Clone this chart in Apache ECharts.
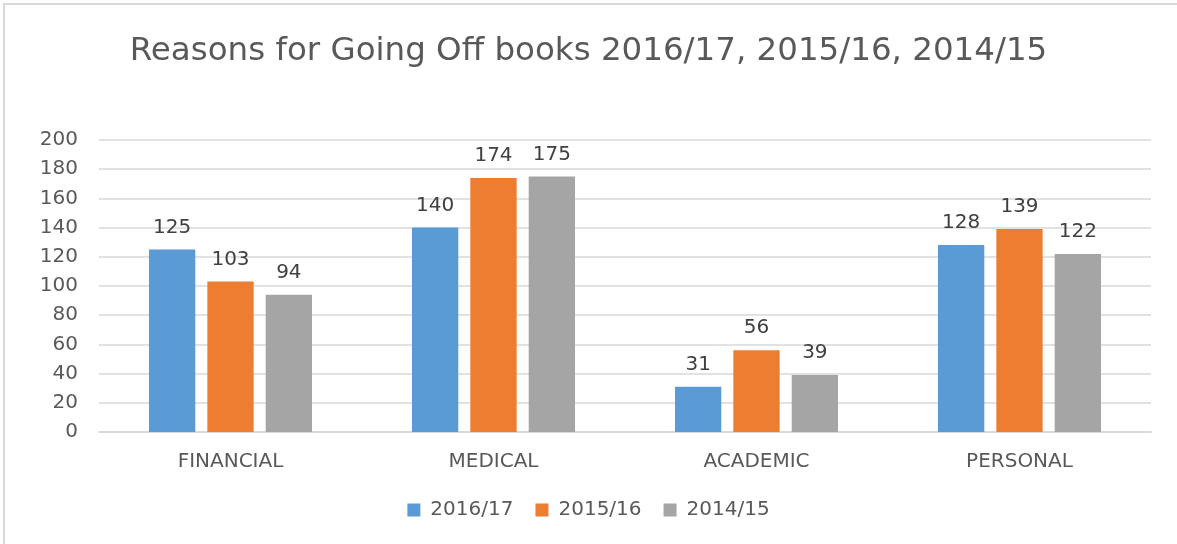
<!DOCTYPE html>
<html>
<head>
<meta charset="utf-8">
<script src="https://cdn.jsdelivr.net/npm/echarts@6/dist/echarts.min.js"></script>
<style>
  html, body { margin: 0; padding: 0; background: #fff; overflow: hidden; }
  #chart { width: 1177px; height: 544px; }
</style>
</head>
<body>
<div id="chart"></div>
<script>
const categories = ['FINANCIAL', 'MEDICAL', 'ACADEMIC', 'PERSONAL'];
const seriesNames = ['2016/17', '2015/16', '2014/15'];
const values2016 = [125, 140, 31, 128];
const values2015 = [103, 174, 56, 139];
const values2014 = [94, 175, 39, 122];
const colors = ['#5b9bd5', '#ed7d31', '#a5a5a5'];

const font = '"DejaVu Sans", "Noto Sans", sans-serif';
const chart = echarts.init(document.getElementById('chart'), null, { renderer: 'canvas' });

function bar(name, data, color) {
  return {
    name, type: 'bar', data,
    barGap: '26%', barCategoryGap: '38%',
    itemStyle: { color },
    label: { show: true, position: 'top', distance: 12, color: '#404040',
             fontFamily: font, fontSize: 20 }
  };
}

chart.setOption({
  animation: false,
  color: colors,
  // chart-area frame: top and left edges
  graphic: [
    { type: 'line', shape: { x1: 3, y1: 4, x2: 1177, y2: 4 },
      style: { stroke: '#d9d9d9', lineWidth: 2 } },
    { type: 'line', shape: { x1: 4, y1: 4, x2: 4, y2: 544 },
      style: { stroke: '#d9d9d9', lineWidth: 2 } }
  ],
  title: {
    text: 'Reasons for Going Off books 2016/17, 2015/16, 2014/15',
    left: 'center', top: 30,
    textStyle: { fontFamily: font, fontSize: 32.5, fontWeight: 'normal', color: '#595959' }
  },
  legend: {
    bottom: 19, left: 'center', itemWidth: 13, itemHeight: 13, itemGap: 22,
    icon: 'rect',
    textStyle: { fontFamily: font, fontSize: 20, color: '#595959', padding: [0, 0, 0, 5] },
    data: seriesNames
  },
  grid: { left: 99, right: 26, top: 140, bottom: 112, containLabel: false },
  xAxis: {
    type: 'category', data: categories,
    axisLine: { lineStyle: { color: '#d9d9d9', width: 2 } },
    axisTick: { show: false },
    axisLabel: { fontFamily: font, fontSize: 20, color: '#595959', margin: 20 }
  },
  yAxis: {
    type: 'value', min: 0, max: 200, interval: 20,
    axisLine: { show: false }, axisTick: { show: false },
    splitLine: { lineStyle: { color: '#d9d9d9', width: 1.5 } },
    axisLabel: { fontFamily: font, fontSize: 20, color: '#595959', margin: 21 }
  },
  series: [
    bar(seriesNames[0], values2016, colors[0]),
    bar(seriesNames[1], values2015, colors[1]),
    bar(seriesNames[2], values2014, colors[2])
  ]
});
</script>
</body>
</html>
